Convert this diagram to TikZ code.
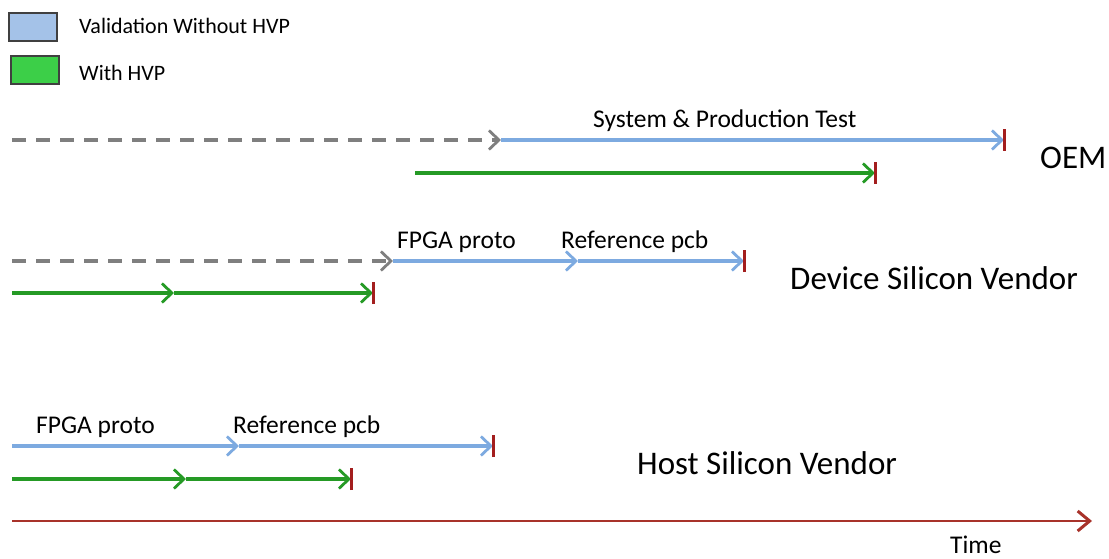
\documentclass[tikz,border=0pt]{standalone}
\usepackage{fontspec}
\setmainfont{Carlito}
\usetikzlibrary{arrows.meta}
\definecolor{valblue}{HTML}{7DAAE0}
\definecolor{legblue}{HTML}{A4C2E8}
\definecolor{hvpgreen}{HTML}{259A25}
\definecolor{leggreen}{HTML}{3CCF48}
\definecolor{dashgrey}{HTML}{7F7F7F}
\definecolor{endred}{HTML}{A31E1E}
\definecolor{timered}{HTML}{A8322A}
\tikzset{
  barb/.style={-{Straight Barb[length=10pt,width=19pt,line width=2.8pt]}},
  seg/.style={line width=3.2pt, barb},
  blueseg/.style={seg, valblue},
  greenseg/.style={seg, hvpgreen},
  greyseg/.style={seg, dashgrey, dash pattern=on 14pt off 10pt},
  endtick/.style={endred, line width=3pt},
  legbox/.style={draw=black!75, line width=2pt, minimum width=48pt, minimum height=28pt, inner sep=0pt},
  lbl/.style={inner sep=0pt, anchor=west, font=\fontsize{22}{26}\selectfont},
  seglbl/.style={inner sep=0pt, anchor=base west, font=\fontsize{25.5}{30}\selectfont},
  rowlbl/.style={inner sep=0pt, anchor=west, font=\fontsize{33}{38}\selectfont},
}
\begin{document}
\begin{tikzpicture}[x=1pt,y=-1pt]
\useasboundingbox (0,0) rectangle (1109,559);

% legend
\node[legbox, fill=legblue] (kval) at (33,27) {};
\node[legbox, fill=leggreen] (khvp) at (35,70) {};
\node[lbl] (tval) at (79,26) {Validation Without HVP};
\node[lbl] (thvp) at (79,73) {With HVP};

% OEM
\coordinate (o0) at (12,140);
\coordinate (o1) at (501,140);
\coordinate (o2) at (1004,140);
\coordinate (og0) at (415,173);
\coordinate (og1) at (875,173);
\draw[greyseg] (o0) -- (o1);
\draw[blueseg] (o1) -- (o2);
\draw[greenseg] (og0) -- (og1);
\draw[endtick] ([yshift=-11pt]o2) -- ([yshift=11pt]o2);
\draw[endtick] ([yshift=-11pt]og1) -- ([yshift=11pt]og1);
\node[seglbl] (tsys) at (593,128) {System \& Production Test};
\node[rowlbl] (toem) at (1040,158) {OEM};

% device silicon vendor
\coordinate (d0) at (12,261);
\coordinate (d1) at (393,261);
\coordinate (d2) at (578,261);
\coordinate (d3) at (744,261);
\coordinate (dg0) at (12,293);
\coordinate (dg1) at (174,293);
\coordinate (dg2) at (373,293);
\draw[greyseg] (d0) -- (d1);
\draw[blueseg] (d1) -- (d2);
\draw[blueseg] (d2) -- (d3);
\draw[greenseg] (dg0) -- (dg1);
\draw[greenseg] (dg1) -- (dg2);
\draw[endtick] ([yshift=-11pt]d3) -- ([yshift=11pt]d3);
\draw[endtick] ([yshift=-11pt]dg2) -- ([yshift=11pt]dg2);
\node[seglbl] (tdf) at (397,248) {FPGA proto};
\node[seglbl] (tdr) at (561,248) {Reference pcb};
\node[rowlbl] (tdev) at (790,278) {Device Silicon Vendor};

% host silicon vendor
\coordinate (h0) at (12,446);
\coordinate (h1) at (239,446);
\coordinate (h2) at (493,446);
\coordinate (hg0) at (12,479);
\coordinate (hg1) at (186,479);
\coordinate (hg2) at (351,479);
\draw[blueseg] (h0) -- (h1);
\draw[blueseg] (h1) -- (h2);
\draw[greenseg] (hg0) -- (hg1);
\draw[greenseg] (hg1) -- (hg2);
\draw[endtick] ([yshift=-11pt]h2) -- ([yshift=11pt]h2);
\draw[endtick] ([yshift=-11pt]hg2) -- ([yshift=11pt]hg2);
\node[seglbl] (thf) at (36,433) {FPGA proto};
\node[seglbl] (thr) at (233,433) {Reference pcb};
\node[rowlbl] (thost) at (637,463) {Host Silicon Vendor};

% time axis
\coordinate (t0) at (12,521);
\coordinate (t1) at (1092,521);
\draw[timered, line width=2pt, -{Straight Barb[length=12pt,width=20pt,line width=3pt]}] (t0) -- (t1);
\node[seglbl] (ttime) at (950,553) {Time};
\end{tikzpicture}
\end{document}
